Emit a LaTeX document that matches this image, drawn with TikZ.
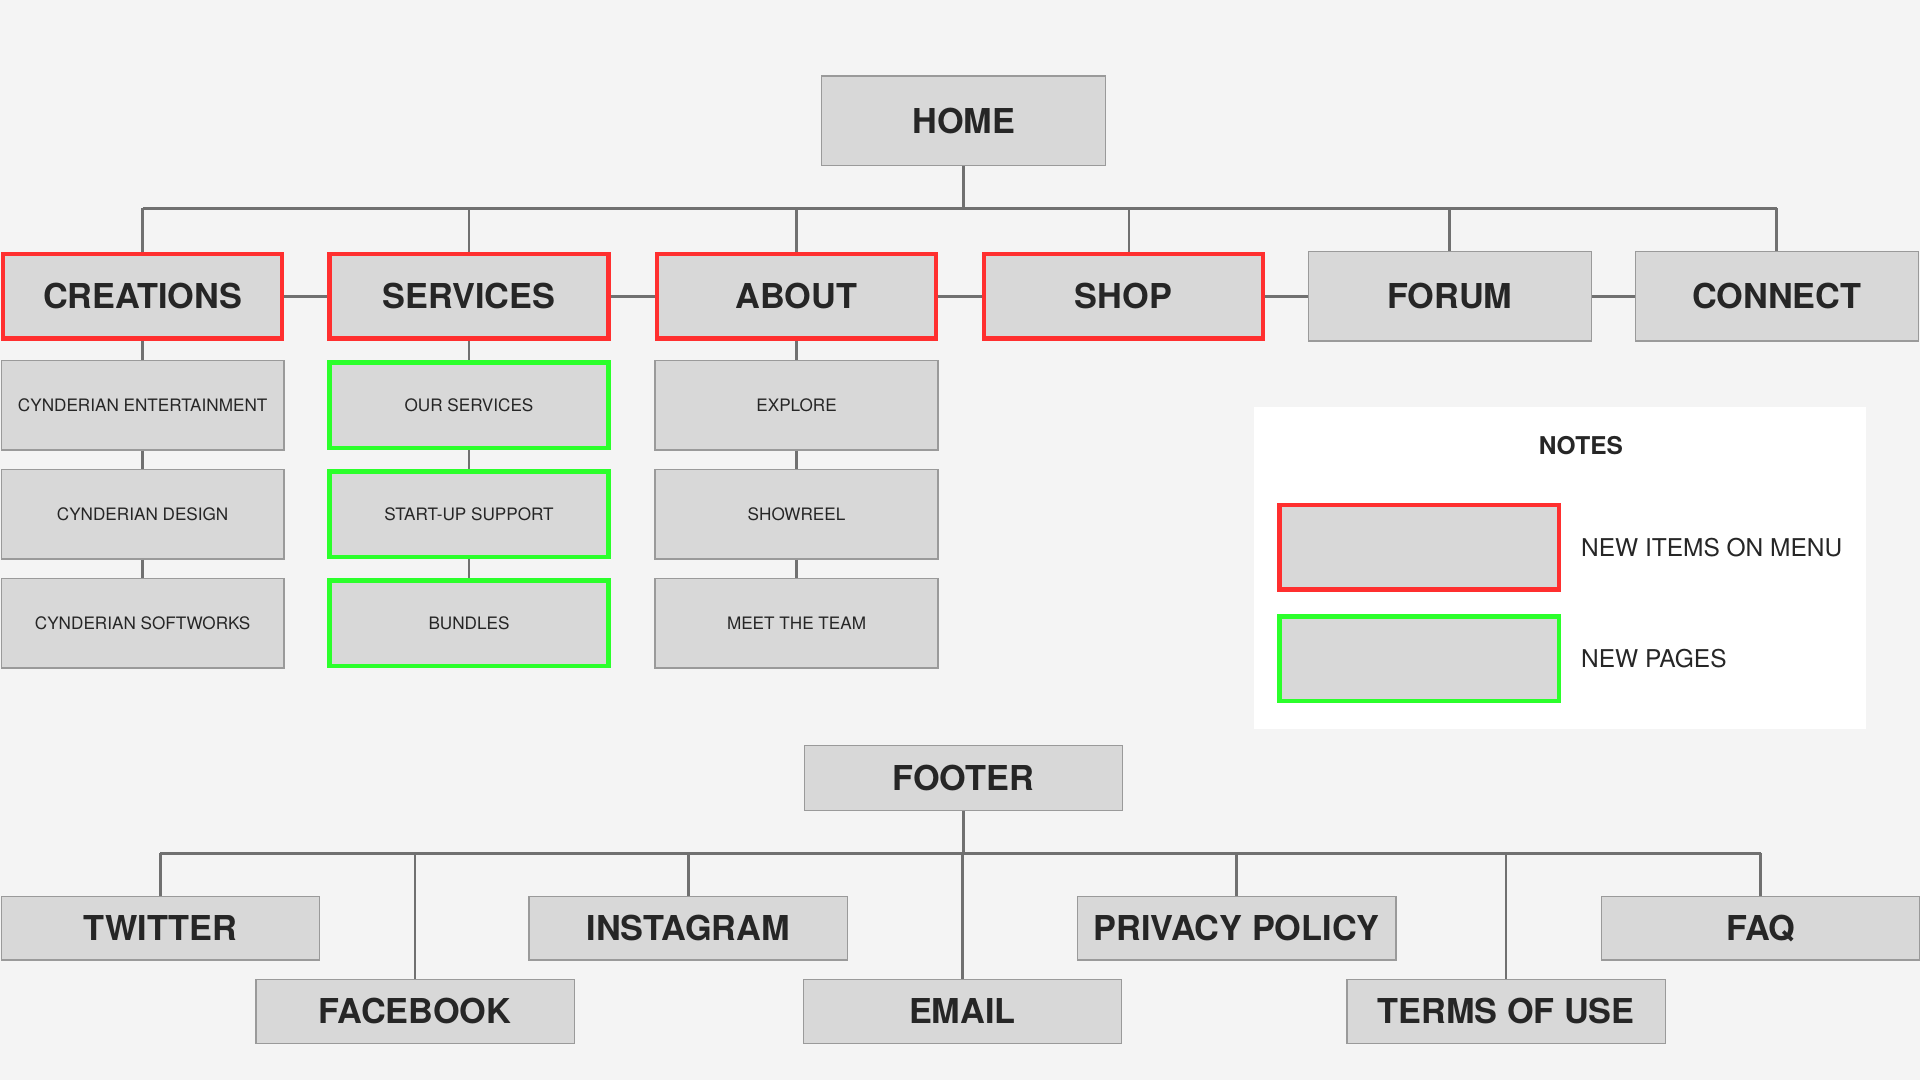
\documentclass[tikz,border=0pt]{standalone}
\usepackage{fontspec}
\setmainfont{TeX Gyre Heros}
\usepackage{xcolor}
\definecolor{bg}{HTML}{F4F4F4}
\definecolor{boxfill}{HTML}{D8D8D8}
\definecolor{edge}{HTML}{9A9A9A}
\definecolor{wire}{HTML}{707070}
\definecolor{ink}{HTML}{262626}
\definecolor{newred}{HTML}{FF2F2F}
\definecolor{newgreen}{HTML}{2BFF2B}

\begin{document}
\begin{tikzpicture}[x=1pt, y=-1pt,
            every node/.style={
            inner sep=0pt, text centered, text=ink}
        ]
        \tikzstyle {plain_box} = [rectangle, draw=edge, line width=1pt, fill=boxfill, minimum width=231pt, minimum height=73pt]
        \tikzstyle {red_box} = [plain_box, draw=newred, line width=3.6pt, minimum width=228pt, minimum height=69pt]
        \tikzstyle {green_box} = [plain_box, draw=newgreen, line width=3.6pt, minimum width=228pt, minimum height=70pt]
        \tikzstyle {foot_box} = [plain_box, minimum width=260pt, minimum height=52pt]
        \tikzstyle {big_text} = [font=\fontsize{28}{30}\selectfont\bfseries]
        \tikzstyle {small_text} = [font=\fontsize{14}{16}\selectfont]
        \tikzstyle {note_text} = [font=\fontsize{20}{22}\selectfont]
        \tikzstyle {link} = [draw=wire, line width=2.2pt]

        \fill [bg] (0,0) rectangle (1568,882);
        \useasboundingbox (0,0) rectangle (1568,882);

        \node [plain_box, minimum width=232pt, big_text] (home) at (787,98.5) {HOME};

        \node [red_box, big_text] (creations) at (116.5,242) {CREATIONS};
        \node [red_box, big_text] (services) at (383,242) {SERVICES};
        \node [red_box, big_text] (about) at (650.5,242) {ABOUT};
        \node [red_box, big_text] (shop) at (917.5,242) {SHOP};
        \node [plain_box, big_text] (forum) at (1184,242) {FORUM};
        \node [plain_box, big_text] (connect) at (1451,242) {CONNECT};

        \node [plain_box, small_text] (ent) at (116.5,331) {CYNDERIAN ENTERTAINMENT};
        \node [plain_box, small_text] (design) at (116.5,420) {CYNDERIAN DESIGN};
        \node [plain_box, small_text] (soft) at (116.5,509) {CYNDERIAN SOFTWORKS};
        \node [green_box, small_text] (ourserv) at (383,331) {OUR SERVICES};
        \node [green_box, small_text] (startup) at (383,420) {START-UP SUPPORT};
        \node [green_box, small_text] (bundles) at (383,509) {BUNDLES};
        \node [plain_box, small_text] (explore) at (650.5,331) {EXPLORE};
        \node [plain_box, small_text] (reel) at (650.5,420) {SHOWREEL};
        \node [plain_box, small_text] (team) at (650.5,509) {MEET THE TEAM};

        \node [fill=white, minimum width=500pt, minimum height=263pt] (notes) at (1274,463.5) {};
        \node [font=\fontsize{20}{22}\selectfont\bfseries] (notes_title) at (1291,364) {NOTES};
        \node [red_box] (key_red) at (1159,447) {};
        \node [green_box, minimum height=69pt] (key_green) at (1159,538) {};
        \node [note_text, anchor=west] (key_red_txt) at (1291,447) {NEW ITEMS ON MENU};
        \node [note_text, anchor=west] (key_green_txt) at (1291,538) {NEW PAGES};

        \node [foot_box, minimum height=53pt, big_text] (footer) at (787,635.5) {FOOTER};
        \node [foot_box, big_text] (twitter) at (131,758) {TWITTER};
        \node [foot_box, big_text] (facebook) at (339,826) {FACEBOOK};
        \node [foot_box, big_text] (instagram) at (562,758) {INSTAGRAM};
        \node [foot_box, big_text] (email) at (786,826) {EMAIL};
        \node [foot_box, big_text] (privacy) at (1010,758) {PRIVACY POLICY};
        \node [foot_box, big_text] (terms) at (1230,826) {TERMS OF USE};
        \node [foot_box, big_text] (faq) at (1438,758) {FAQ};

        \coordinate (topbus) at (0,170);
        \coordinate (shopdrop) at (922,170);
        \coordinate (footbus) at (0,697);

        \draw [link] (home.south) -- (home.south |- topbus);
        \draw [link] (creations.north |- topbus) -- (connect.north |- topbus);
        \foreach \n in {creations,services,about,forum,connect}
            \draw [link] (\n.north |- topbus) -- (\n.north);
        \draw [link] (shopdrop) -- (shopdrop |- shop.north);

        \draw [link] (creations.east) -- (services.west);
        \draw [link] (services.east) -- (about.west);
        \draw [link] (about.east) -- (shop.west);
        \draw [link] (shop.east) -- (forum.west);
        \draw [link] (forum.east) -- (connect.west);

        \draw [link] (creations) edge (ent) (ent) edge (design) (design) edge (soft);
        \draw [link] (services) edge (ourserv) (ourserv) edge (startup) (startup) edge (bundles);
        \draw [link] (about) edge (explore) (explore) edge (reel) (reel) edge (team);

        \draw [link] (footer.south) -- (footer.south |- footbus);
        \draw [link] (twitter.north |- footbus) -- (faq.north |- footbus);
        \foreach \n in {twitter,facebook,instagram,email,privacy,terms,faq}
            \draw [link] (\n.north |- footbus) -- (\n.north);

        \end{tikzpicture}
\end{document}
